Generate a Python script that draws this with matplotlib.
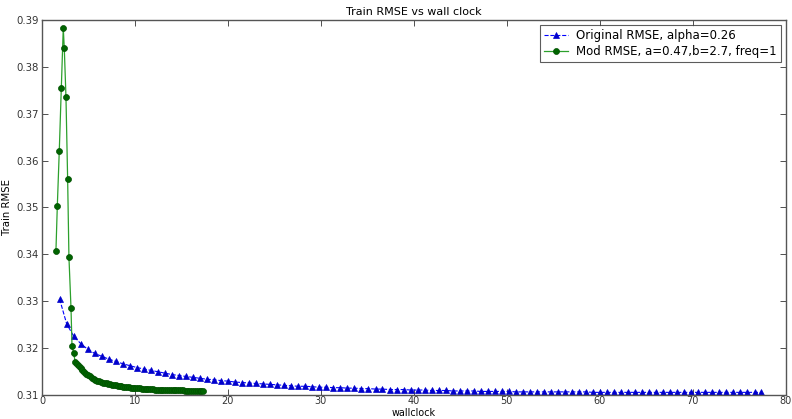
import matplotlib
matplotlib.use("Agg")
import matplotlib.pyplot as plt

orig_x = [1.90, 2.66, 3.41, 4.17, 4.92, 5.68, 6.43, 7.19, 7.94, 8.70,
          9.45, 10.21, 10.96, 11.72, 12.47, 13.23, 13.98, 14.74, 15.49, 16.25,
          17.00, 17.76, 18.51, 19.27, 20.02, 20.78, 21.53, 22.29, 23.04, 23.80,
          24.55, 25.31, 26.06, 26.82, 27.57, 28.33, 29.08, 29.84, 30.59, 31.35,
          32.10, 32.86, 33.61, 34.37, 35.12, 35.88, 36.63, 37.39, 38.14, 38.90,
          39.65, 40.41, 41.16, 41.92, 42.67, 43.43, 44.18, 44.94, 45.69, 46.45,
          47.20, 47.96, 48.71, 49.47, 50.22, 50.98, 51.73, 52.49, 53.24, 54.00,
          54.75, 55.51, 56.26, 57.02, 57.77, 58.53, 59.28, 60.04, 60.79, 61.55,
          62.30, 63.06, 63.81, 64.57, 65.32, 66.08, 66.83, 67.59, 68.34, 69.10,
          69.85, 70.61, 71.36, 72.12, 72.87, 73.63, 74.38, 75.14, 75.89, 76.65,
          77.40]
orig_rmse = [0.3304, 0.3251, 0.3225, 0.3209, 0.3197, 0.3188, 0.3182, 0.3176, 0.3171, 0.3166,
             0.3162, 0.3158, 0.3155, 0.3152, 0.3149, 0.3146, 0.3143, 0.3141, 0.3139, 0.3137,
             0.3135, 0.3133, 0.3132, 0.3130, 0.3129, 0.3127, 0.3126, 0.3125, 0.3124, 0.3123,
             0.3122, 0.3121, 0.3120, 0.3119, 0.3118, 0.3118, 0.3117, 0.3116, 0.3116, 0.3115,
             0.3115, 0.3114, 0.3114, 0.3113, 0.3113, 0.3112, 0.3112, 0.3111, 0.3111, 0.3111,
             0.3110, 0.3110, 0.3110, 0.3109, 0.3109, 0.3109, 0.3108, 0.3108, 0.3108, 0.3108,
             0.3107, 0.3107, 0.3107, 0.3107, 0.3107, 0.3106, 0.3106, 0.3106, 0.3106, 0.3106,
             0.3106, 0.3106, 0.3106, 0.3106, 0.3106, 0.3106, 0.3105, 0.3105, 0.3105, 0.3105,
             0.3105, 0.3105, 0.3105, 0.3105, 0.3105, 0.3105, 0.3105, 0.3105, 0.3105, 0.3105,
             0.3105, 0.3105, 0.3105, 0.3105, 0.3105, 0.3105, 0.3105, 0.3105, 0.3105, 0.3105,
             0.3105]

mod_x = [1.50, 1.65, 1.86, 2.08, 2.29, 2.40, 2.58, 2.76, 2.90, 3.12, 3.23, 3.40, 3.58,
         3.75, 3.95, 4.15, 4.35, 4.55, 4.75, 4.95, 5.15, 5.35, 5.55,
         5.75, 5.95, 6.15, 6.35, 6.55, 6.75, 6.95, 7.15, 7.35, 7.55,
         7.75, 7.95, 8.15, 8.35, 8.55, 8.75, 8.95, 9.15, 9.35, 9.55,
         9.75, 9.95, 10.15, 10.35, 10.55, 10.75, 10.95, 11.15, 11.35, 11.55,
         11.75, 11.95, 12.15, 12.35, 12.55, 12.75, 12.95, 13.15, 13.35, 13.55,
         13.75, 13.95, 14.15, 14.35, 14.55, 14.75, 14.95, 15.15, 15.35, 15.55,
         15.75, 15.95, 16.15, 16.35, 16.55, 16.75, 16.95, 17.15, 17.35]
mod_rmse = [0.3406, 0.3503, 0.3620, 0.3755, 0.3883, 0.3840, 0.3736, 0.3561, 0.3394, 0.3286,
            0.3205, 0.3189, 0.3170,
            0.3166, 0.3161, 0.3157, 0.3153, 0.3149, 0.3145, 0.3142, 0.3139, 0.3136, 0.3134,
            0.3132, 0.3130, 0.3129, 0.3127, 0.3126, 0.3125, 0.3124, 0.3123, 0.3122, 0.3121,
            0.3120, 0.3120, 0.3119, 0.3118, 0.3118, 0.3117, 0.3117, 0.3116, 0.3116, 0.3115,
            0.3115, 0.3115, 0.3114, 0.3114, 0.3114, 0.3113, 0.3113, 0.3113, 0.3112, 0.3112,
            0.3112, 0.3112, 0.3111, 0.3111, 0.3111, 0.3111, 0.3110, 0.3110, 0.3110, 0.3110,
            0.3110, 0.3109, 0.3109, 0.3109, 0.3109, 0.3109, 0.3109, 0.3109, 0.3108, 0.3108,
            0.3108, 0.3108, 0.3108, 0.3108, 0.3108, 0.3108, 0.3108, 0.3108, 0.3108]

title = "Train RMSE vs wall clock"
xlabel = "wallclock"
ylabel = "Train RMSE"
label_orig = "Original RMSE, alpha=0.26"
label_mod = "Mod RMSE, a=0.47,b=2.7, freq=1"
yticks = [0.31, 0.32, 0.33, 0.34, 0.35, 0.36, 0.37, 0.38, 0.39]

fs = 7
fig = plt.figure(figsize=(7.92, 4.19), dpi=100)
ax = fig.add_axes([0.053, 0.058, 0.939, 0.894])

ax.plot(orig_x, orig_rmse, linestyle='--', color='#0000ff', lw=0.8,
        marker='^', markersize=4.2, markerfacecolor='#0000cc', markeredgecolor='#0000cc',
        markeredgewidth=0.5, label=label_orig)
ax.plot(mod_x, mod_rmse, linestyle='-', color='#2ca02c', lw=0.9,
        marker='o', markersize=4.3, markerfacecolor='#006400', markeredgecolor='#005000',
        markeredgewidth=0.5, label=label_mod)

ax.set_xlim(0, 80)
ax.set_ylim(0.31, 0.39)
ax.set_xticks(range(0, 81, 10))
ax.set_yticks(yticks)
ax.set_yticklabels([f"{v:.2f}" for v in yticks])
ax.tick_params(direction='in', top=True, right=True, labelsize=fs + 0.3, length=4,
               width=0.6, colors='#333333', pad=2)
ax.tick_params(axis='x', labelsize=fs, pad=1.2)
for s in ax.spines.values():
    s.set_color('#555555')
    s.set_linewidth(1.0)

ax.set_title(title, fontsize=fs + 1, pad=4)
ax.set_xlabel(xlabel, fontsize=fs - 0.1)
ax.xaxis.set_label_coords(0.5, -0.0355)
ax.set_ylabel(ylabel, fontsize=fs + 0.3)
ax.yaxis.set_label_coords(-0.040, 0.5)

leg = ax.legend(loc='upper right', fontsize=fs + 1.5, fancybox=False, frameon=True,
                borderaxespad=0.4, handlelength=2.0, borderpad=0.35, labelspacing=0.25,
                handletextpad=0.7)
leg.get_frame().set_edgecolor('#333333')
leg.get_frame().set_linewidth(0.8)

fig.savefig("out.png", dpi=100)
